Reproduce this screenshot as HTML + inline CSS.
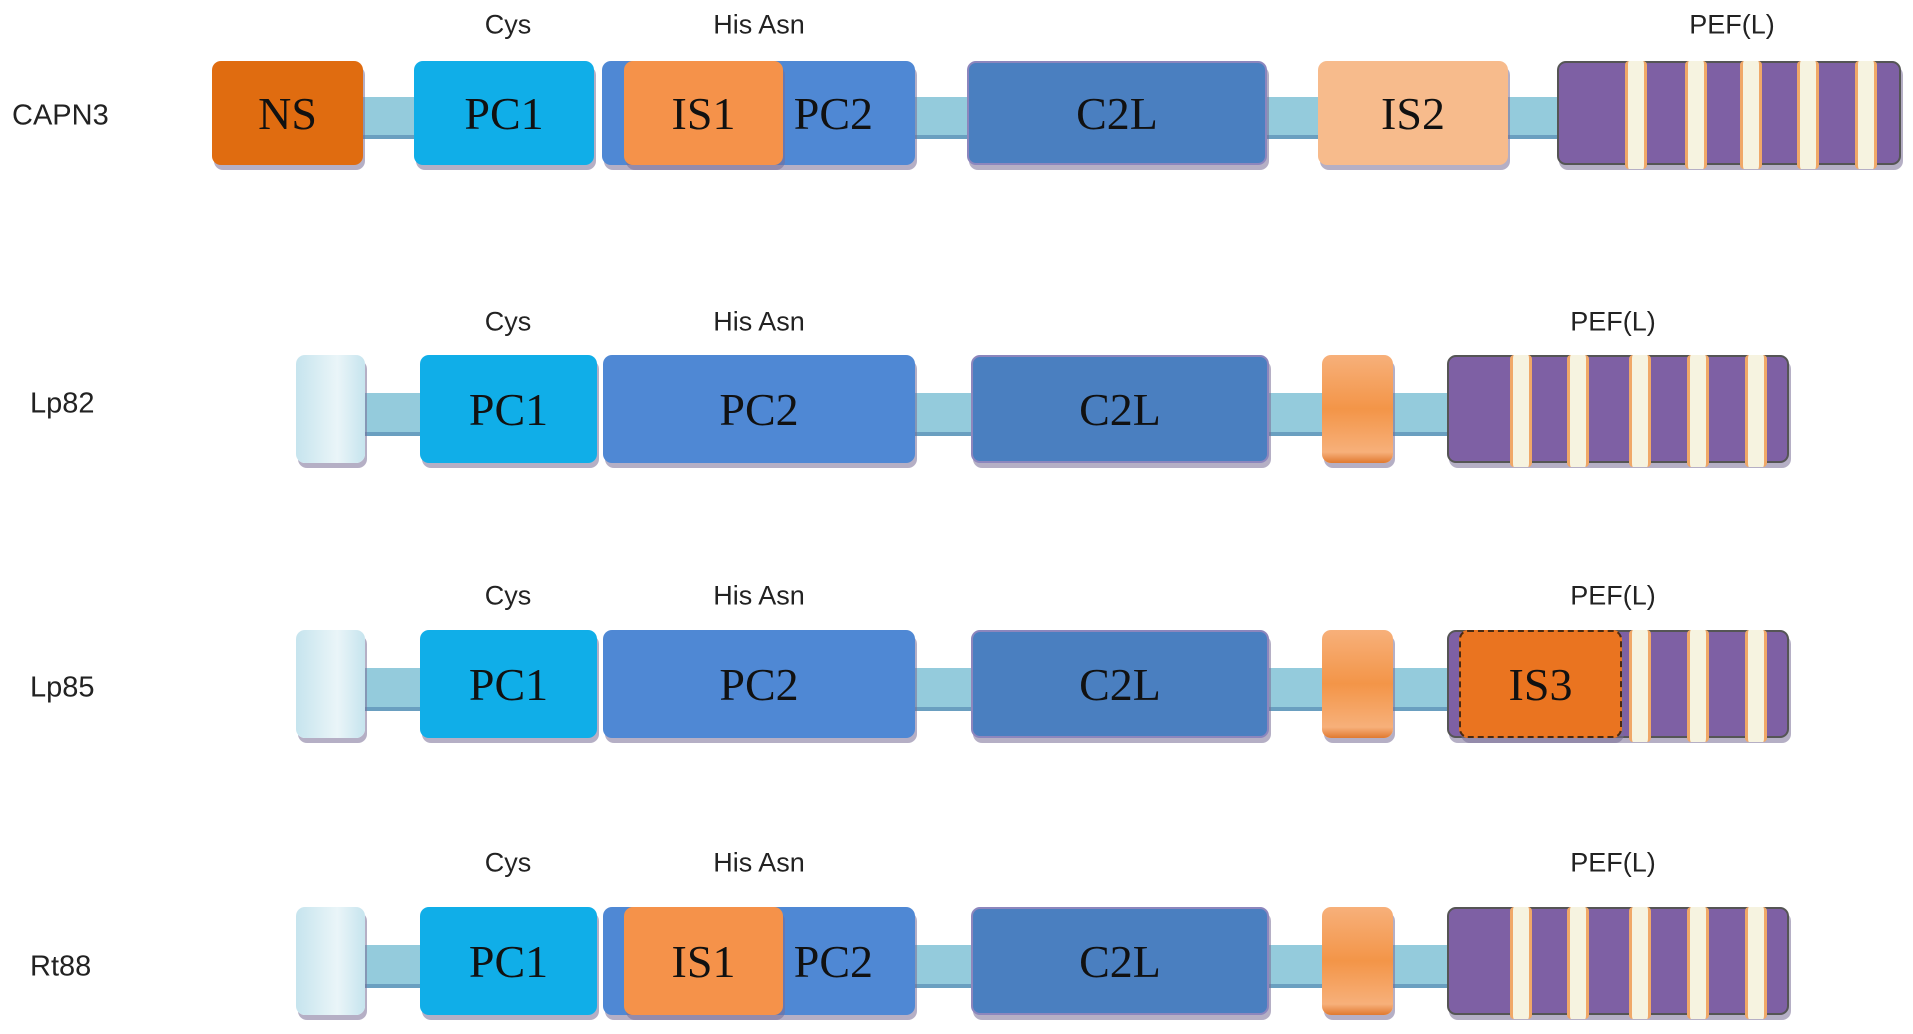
<!DOCTYPE html>
<html><head><meta charset="utf-8"><style>
body{margin:0;width:1913px;height:1034px;background:#fff;position:relative;overflow:hidden;font-family:"Liberation Sans",sans-serif}
.row{position:absolute;left:0;width:1913px}
.b{position:absolute;top:0;bottom:0;border-radius:9px;box-shadow:2px 5px 0 rgba(120,110,150,0.55);font-family:"Liberation Serif",serif;font-size:46px;color:#111;display:flex;align-items:center;justify-content:center;box-sizing:border-box}
.c{position:absolute;top:35%;height:36%;background:#94cbdc;box-shadow:0 4px 0 #6a9fc0}
.lab{position:absolute;font-size:27px;color:#222;transform:translate(-50%,-50%);white-space:nowrap}
.t{position:absolute;font-size:29px;color:#222;transform:translateY(-50%)}
.ns{background:#e06c10}
.pc1{background:#10aee8}
.pc2{background:#4f88d4}
.is1{background:#f5924a}
.c2l{background:#4a7fc0;border:2px solid #8c86bd}
.is2{background:#f7bb8c}
.pef{background:#7e60a4;border:2px solid #555}
.st{position:absolute;top:-2px;bottom:-6px;width:22px;background:#f6f3e0;border-left:3px solid #f0a868;border-right:3px solid #f0a868;border-radius:4px;box-sizing:border-box}
.pale{background:linear-gradient(90deg,#c6e4ee,#eaf5f8 60%,#c6e4ee)}
.or{background:linear-gradient(180deg,#f7b07a,#f39548 50%,#f7b07a 90%,#e07a30)}
.is3{background:#ea7420;border:2px dashed #4a2a10}
</style></head><body>

<div class="t" style="left:12px;top:116px">CAPN3</div>
<div class="lab" style="left:508px;top:25px">Cys</div>
<div class="lab" style="left:759px;top:25px">His Asn</div>
<div class="lab" style="left:1732px;top:25px">PEF(L)</div>
<div class="row" style="top:61px;height:104px">
<div class="c" style="left:355px;width:70px"></div>
<div class="c" style="left:905px;width:70px"></div>
<div class="c" style="left:1260px;width:70px"></div>
<div class="c" style="left:1500px;width:70px"></div>
<div class="b ns" style="left:212px;width:151px">NS</div>
<div class="b pc1" style="left:414px;width:180px">PC1</div>
<div class="b pc2" style="left:602px;width:313px;justify-content:flex-end;padding-right:42px">PC2</div>
<div class="b is1" style="left:624px;width:159px">IS1</div>
<div class="b c2l" style="left:967px;width:300px">C2L</div>
<div class="b is2" style="left:1318px;width:190px">IS2</div>
<div class="b pef" style="left:1557px;width:344px">
<div class="st" style="left:66px"></div><div class="st" style="left:126px"></div><div class="st" style="left:181px"></div><div class="st" style="left:238px"></div><div class="st" style="left:296px"></div></div>
</div>

<div class="t" style="left:30px;top:404px">Lp82</div>
<div class="lab" style="left:508px;top:322px">Cys</div>
<div class="lab" style="left:759px;top:322px">His Asn</div>
<div class="lab" style="left:1613px;top:322px">PEF(L)</div>
<div class="row" style="top:355px;height:108px">
<div class="c" style="left:360px;width:70px"></div>
<div class="c" style="left:905px;width:75px"></div>
<div class="c" style="left:1260px;width:70px"></div>
<div class="c" style="left:1385px;width:70px"></div>
<div class="b pale" style="left:296px;width:69px"></div>
<div class="b pc1" style="left:420px;width:177px">PC1</div>
<div class="b pc2" style="left:603px;width:312px">PC2</div>
<div class="b c2l" style="left:971px;width:298px">C2L</div>
<div class="b or" style="left:1322px;width:71px"></div>
<div class="b pef" style="left:1447px;width:342px">
<div class="st" style="left:61px"></div><div class="st" style="left:118px"></div><div class="st" style="left:180px"></div><div class="st" style="left:238px"></div><div class="st" style="left:296px"></div></div>
</div>

<div class="t" style="left:30px;top:688px">Lp85</div>
<div class="lab" style="left:508px;top:596px">Cys</div>
<div class="lab" style="left:759px;top:596px">His Asn</div>
<div class="lab" style="left:1613px;top:596px">PEF(L)</div>
<div class="row" style="top:630px;height:108px">
<div class="c" style="left:360px;width:70px"></div>
<div class="c" style="left:905px;width:75px"></div>
<div class="c" style="left:1260px;width:70px"></div>
<div class="c" style="left:1385px;width:70px"></div>
<div class="b pale" style="left:296px;width:69px"></div>
<div class="b pc1" style="left:420px;width:177px">PC1</div>
<div class="b pc2" style="left:603px;width:312px">PC2</div>
<div class="b c2l" style="left:971px;width:298px">C2L</div>
<div class="b or" style="left:1322px;width:71px"></div>
<div class="b pef" style="left:1447px;width:342px">
<div class="st" style="left:180px"></div><div class="st" style="left:238px"></div><div class="st" style="left:296px"></div></div>
<div class="b is3" style="left:1459px;width:163px">IS3</div>
</div>

<div class="t" style="left:30px;top:967px">Rt88</div>
<div class="lab" style="left:508px;top:863px">Cys</div>
<div class="lab" style="left:759px;top:863px">His Asn</div>
<div class="lab" style="left:1613px;top:863px">PEF(L)</div>
<div class="row" style="top:907px;height:108px">
<div class="c" style="left:360px;width:70px"></div>
<div class="c" style="left:905px;width:75px"></div>
<div class="c" style="left:1260px;width:70px"></div>
<div class="c" style="left:1385px;width:70px"></div>
<div class="b pale" style="left:296px;width:69px"></div>
<div class="b pc1" style="left:420px;width:177px">PC1</div>
<div class="b pc2" style="left:603px;width:312px;justify-content:flex-end;padding-right:42px">PC2</div>
<div class="b is1" style="left:624px;width:159px">IS1</div>
<div class="b c2l" style="left:971px;width:298px">C2L</div>
<div class="b or" style="left:1322px;width:71px"></div>
<div class="b pef" style="left:1447px;width:342px">
<div class="st" style="left:61px"></div><div class="st" style="left:118px"></div><div class="st" style="left:180px"></div><div class="st" style="left:238px"></div><div class="st" style="left:296px"></div></div>
</div>

</body></html>
